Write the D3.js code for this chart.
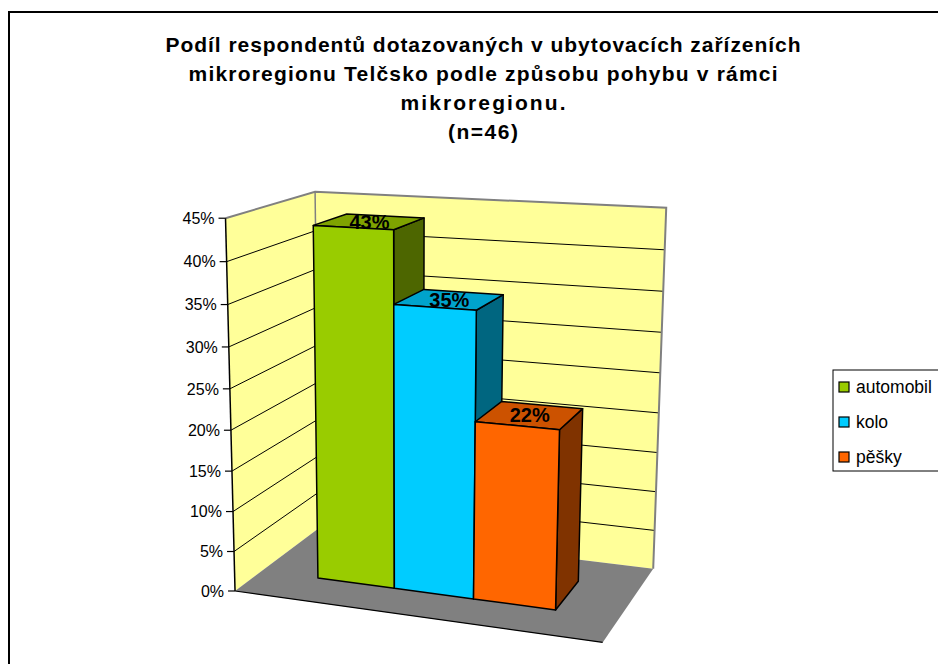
<!DOCTYPE html>
<html><head><meta charset="utf-8">
<script src="https://cdn.jsdelivr.net/npm/d3@7"></script>
<style>body{margin:0;background:#fff}svg{display:block}</style>
</head><body>
<svg id="chart" width="938" height="664"></svg>
<script>
// ---------- data ----------
const titleLines = ["Podíl respondentů dotazovaných v ubytovacích zařízeních",
  "mikroregionu Telčsko podle způsobu pohybu v rámci",
  "mikroregionu.",
  "(n=46)"];
const seriesNames = ["automobil", "kolo", "pěšky"];
const seriesValues = [0.435, 0.348, 0.217];
const valueLabels = ["43%", "35%", "22%"];
const yTickValues = [0, 0.05, 0.10, 0.15, 0.20, 0.25, 0.30, 0.35, 0.40, 0.45];
const yTickLabels = ["0%", "5%", "10%", "15%", "20%", "25%", "30%", "35%", "40%", "45%"];
const frontColors = ["#99CC00", "#00CCFF", "#FF6600"];
const topColors = ["#7FA300", "#00A3CC", "#CC5200"];
const sideColors = ["#4D6600", "#006680", "#803300"];

// ---------- layout: camera calibrated on the chart box (world unit cube) ----------
const boxAnchors = [
  [[0, 0, 0], [236, 591]],
  [[0, 1, 0], [225, 218]],
  [[0, 0, 1], [318, 528]],
  [[0, 1, 1], [316, 192]],
  [[1, 0, 1], [654, 568]],
  [[1, 1, 1], [666, 208]],
  [[1, 0, 0], [602, 643]],
  [[0, 2 / 9, 0], [233.5, 511]],
  [[0, 4 / 9, 0], [231.5, 431]],
  [[0, 6 / 9, 0], [228, 347]],
  [[0, 8 / 9, 0], [226.5, 261]]
];

function solveLS(A, b) {
  const n = A[0].length;
  const M = Array.from({length: n}, () => new Array(n + 1).fill(0));
  A.forEach((row, r) => {
    for (let i = 0; i < n; i++) {
      for (let j = 0; j < n; j++) M[i][j] += row[i] * row[j];
      M[i][n] += row[i] * b[r];
    }
  });
  for (let c = 0; c < n; c++) {
    let p = c;
    for (let r = c + 1; r < n; r++) if (Math.abs(M[r][c]) > Math.abs(M[p][c])) p = r;
    [M[c], M[p]] = [M[p], M[c]];
    for (let r = 0; r < n; r++) {
      if (r === c) continue;
      const f = M[r][c] / M[c][c];
      for (let k = c; k <= n; k++) M[r][k] -= f * M[c][k];
    }
  }
  return M.map((row, i) => row[n] / row[i]);
}
const A = [], B = [];
boxAnchors.forEach(([[x, y, z], [u, v]]) => {
  A.push([x, y, z, 1, 0, 0, 0, 0, -u * x, -u * y, -u * z]); B.push(u);
  A.push([0, 0, 0, 0, x, y, z, 1, -v * x, -v * y, -v * z]); B.push(v);
});
const P = solveLS(A, B);
function proj(x, y, z) {
  const w = P[8] * x + P[9] * y + P[10] * z + 1;
  return [(P[0] * x + P[1] * y + P[2] * z + P[3]) / w,
          (P[4] * x + P[5] * y + P[6] * z + P[7]) / w];
}

// ---------- scales ----------
const yScale = d3.scaleLinear().domain([0, 0.45]).range([0, 1]);
const xScale = d3.scaleBand().domain(seriesNames).range([1 / 6, 5 / 6]).paddingInner(0);
const zFront = 0.3, zBack = 0.7;

const svg = d3.select("#chart");
const line = d3.line();
const poly = pts => line(pts.map(p => proj(...p))) + "Z";

// outer frame
svg.append("rect").attr("x", 9).attr("y", 12).attr("width", 1000).attr("height", 1000)
  .attr("fill", "#fff").attr("stroke", "#000").attr("stroke-width", 2);

// title
const titleY = [52, 81, 110, 139];
const titleW = [635, 589, 165, 70];
svg.append("g").selectAll("text").data(titleLines).join("text")
  .attr("x", 483).attr("y", (d, i) => titleY[i])
  .attr("text-anchor", "middle")
  .attr("font-family", "Arial, 'Liberation Sans', sans-serif")
  .attr("font-weight", "bold").attr("font-size", 21)
  .attr("textLength", (d, i) => titleW[i]).attr("lengthAdjust", "spacing")
  .text(d => d);

// walls & floor
const wallFill = "#FFFF99", edge = "#808080";
svg.append("path").attr("d", poly([[0, 0, 0], [0, 1, 0], [0, 1, 1], [0, 0, 1]])).attr("fill", wallFill);
svg.append("path").attr("d", poly([[0, 0, 1], [0, 1, 1], [1, 1, 1], [1, 0, 1]])).attr("fill", wallFill);
svg.append("path").attr("d", poly([[0, 0, 0], [0, 0, 1], [1, 0, 1], [1, 0, 0]])).attr("fill", "#808080");

// gridlines
const grid = svg.append("g").attr("stroke", "#000").attr("stroke-width", 1).attr("fill", "none");
yTickValues.filter(v => v > 0 && v < 0.45).forEach(v => {
  const y = yScale(v);
  grid.append("path").attr("d", line([proj(0, y, 0), proj(0, y, 1), proj(1, y, 1)]));
});
// wall edges
svg.append("path").attr("d", line([proj(0, 1, 0), proj(0, 1, 1), proj(1, 1, 1), proj(1, 0, 1)]))
  .attr("fill", "none").attr("stroke", edge).attr("stroke-width", 2);
svg.append("path").attr("d", line([proj(0, 0, 1), proj(0, 1, 1)]))
  .attr("fill", "none").attr("stroke", edge).attr("stroke-width", 1.5);
// floor front edge & axis
svg.append("path").attr("d", line([proj(0, 0, 0), proj(1, 0, 0)]))
  .attr("fill", "none").attr("stroke", "#000").attr("stroke-width", 1.2);
svg.append("path").attr("d", line([proj(0, 0, 0), proj(0, 1, 0)]))
  .attr("fill", "none").attr("stroke", "#000").attr("stroke-width", 1.5);

// ticks and labels
const axisG = svg.append("g");
yTickValues.forEach((v, i) => {
  const [px, py] = proj(0, yScale(v), 0);
  axisG.append("line").attr("x1", px - 7).attr("x2", px).attr("y1", py).attr("y2", py)
    .attr("stroke", "#000").attr("stroke-width", 1.2);
  axisG.append("text").attr("x", px - 11).attr("y", py).attr("dy", "0.36em")
    .attr("text-anchor", "end").attr("font-family", "Arial, 'Liberation Sans', sans-serif")
    .attr("font-size", 16).text(yTickLabels[i]);
});

// bars
const barsG = svg.append("g").attr("stroke", "#000").attr("stroke-width", 1.5).attr("stroke-linejoin", "round");
seriesNames.forEach((name, i) => {
  const x0 = xScale(name), x1 = x0 + xScale.bandwidth(), h = yScale(seriesValues[i]);
  barsG.append("path").attr("fill", sideColors[i])
    .attr("d", poly([[x1, 0, zFront], [x1, h, zFront], [x1, h, zBack], [x1, 0, zBack]]));
  barsG.append("path").attr("fill", topColors[i])
    .attr("d", poly([[x0, h, zFront], [x0, h, zBack], [x1, h, zBack], [x1, h, zFront]]));
  barsG.append("path").attr("fill", frontColors[i])
    .attr("d", poly([[x0, 0, zFront], [x0, h, zFront], [x1, h, zFront], [x1, 0, zFront]]));
});
// value labels
seriesNames.forEach((name, i) => {
  const xc = xScale(name) + xScale.bandwidth() / 2;
  const [px, py] = proj(xc, yScale(seriesValues[i]), (zFront + zBack) / 2);
  svg.append("text").attr("x", px).attr("y", py).attr("dy", "0.36em")
    .attr("text-anchor", "middle").attr("font-family", "Arial, 'Liberation Sans', sans-serif")
    .attr("font-weight", "bold").attr("font-size", 20).text(valueLabels[i]);
});

// legend
const leg = svg.append("g");
leg.append("rect").attr("x", 833).attr("y", 370).attr("width", 200).attr("height", 101)
  .attr("fill", "#fff").attr("stroke", "#000").attr("stroke-width", 1);
const legY = d3.scalePoint().domain(seriesNames).range([387, 457]);
seriesNames.forEach((name, i) => {
  const cy = legY(name);
  leg.append("rect").attr("x", 839).attr("y", cy - 5).attr("width", 10).attr("height", 10)
    .attr("fill", frontColors[i]).attr("stroke", "#000").attr("stroke-width", 1.2);
  leg.append("text").attr("x", 856).attr("y", cy).attr("dy", "0.36em")
    .attr("font-family", "Arial, 'Liberation Sans', sans-serif").attr("font-size", 17.5).text(name);
});
</script>
</body></html>
